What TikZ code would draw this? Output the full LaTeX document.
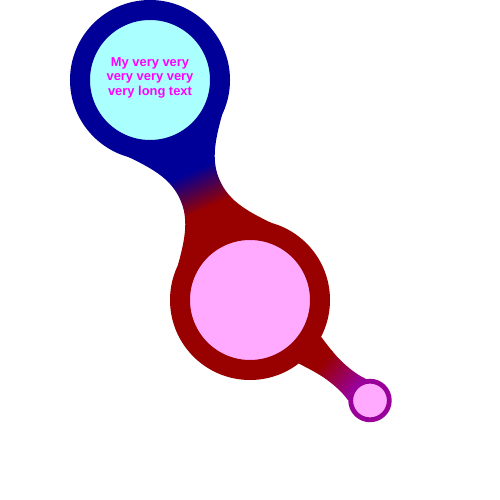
\documentclass[tikz,border=0pt]{standalone}
\usepackage{fontspec}
\setmainfont{Liberation Sans}
\pgfdeclarelayer{background}
\pgfsetlayers{background,main}
\definecolor{cnavy}{RGB}{0,0,153}
\definecolor{cred}{RGB}{153,0,0}
\definecolor{cpurple}{RGB}{153,0,153}
\definecolor{ccyan}{RGB}{170,255,255}
\definecolor{cpink}{RGB}{255,170,255}
\definecolor{cmag}{RGB}{255,0,255}
\begin{document}
\begin{tikzpicture}[x=1pt,y=1pt,
  bigconcept/.style={circle, inner sep=0pt, outer sep=0pt, minimum size=140pt, line width=20pt},
  smallconcept/.style={circle, inner sep=0pt, outer sep=0pt, minimum size=38.6pt, line width=4.8pt},
  conceptlabel/.style={font=\fontsize{12.9}{14.5}\selectfont\bfseries, text=cmag, align=center, inner sep=0pt}
]
\useasboundingbox (0,0) rectangle (500,500);
\node[bigconcept, draw=cnavy, fill=ccyan] (root) at (150,420) {};
\node[bigconcept, draw=cred, fill=cpink] (child) at (250,200) {};
\node[smallconcept, draw=cpurple, fill=cpink] (leaf) at (370,99.5) {};
\node[conceptlabel] (roottext) at ([yshift=2.5pt]root.center) {My very very\\very very very\\very long text};
\begin{pgfonlayer}{background}
\begin{scope}[transform canvas={shift={(root.center)}, rotate=-65.56}]
  \clip (61.28,51.42) .. controls (84.26,32.14) and (100,22) .. (120.83,22)
        .. controls (141.66,22) and (157.4,32.14) .. (180.38,51.42)
        -- (180.38,-51.42)
        .. controls (157.4,-32.14) and (141.66,-22) .. (120.83,-22)
        .. controls (100,-22) and (84.26,-32.14) .. (61.28,-51.42) -- cycle;
  \fill[cnavy] (0,-60) rectangle (100.5,60);
  \shade[left color=cnavy, right color=cred] (100,-60) rectangle (140,60);
  \fill[cred] (139.5,-60) rectangle (241.66,60);
\end{scope}
\begin{scope}[transform canvas={shift={(child.center)}, rotate=-39.95}]
  \clip (78.07,17.45) .. controls (93,14) and (104,11.5) .. (118,11.5)
        .. controls (128,11.5) and (134,12.5) .. (139.9,14)
        -- (139.9,-14)
        .. controls (134,-12.5) and (128,-11.5) .. (118,-11.5)
        .. controls (104,-11.5) and (93,-14) .. (78.07,-17.45) -- cycle;
  \fill[cred] (0,-30) rectangle (96.5,30);
  \shade[left color=cred, right color=cpurple] (96,-30) rectangle (137,30);
  \fill[cpurple] (136.5,-30) rectangle (156.52,30);
\end{scope}
\end{pgfonlayer}
\end{tikzpicture}
\end{document}
